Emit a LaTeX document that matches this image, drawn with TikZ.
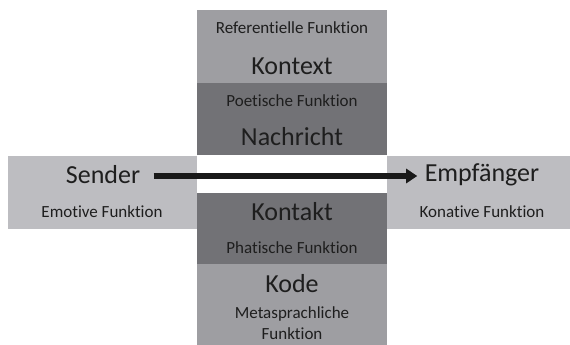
\documentclass[tikz,border=0pt]{standalone}
\usepackage{fontspec}
\setmainfont[Ligatures=NoCommon]{Carlito}
\usetikzlibrary{arrows.meta}
\definecolor{boxlight}{HTML}{BDBDC1}
\definecolor{boxmid}{HTML}{9E9EA2}
\definecolor{boxdark}{HTML}{727276}
\definecolor{txt}{HTML}{1E1E1E}
\begin{document}
\begin{tikzpicture}[x=1pt, y=-1pt,
    box/.style={draw=none, inner sep=0pt, anchor=north west},
    big/.style={font=\fontsize{26}{28}\selectfont, text=txt},
    small/.style={font=\fontsize{17}{21}\selectfont, text=txt, align=center}]

    \useasboundingbox (0,0) rectangle (570,345);

    % boxes
    \node[box, fill=boxlight, minimum width=189pt, minimum height=73pt] (SB) at (8,156) {};
    \node[box, fill=boxlight, minimum width=183pt, minimum height=73pt] (EB) at (387,156) {};
    \node[box, fill=boxmid, minimum width=190pt, minimum height=73pt] (KXB) at (197,10) {};
    \node[box, fill=boxdark, minimum width=190pt, minimum height=72pt] (NAB) at (197,83) {};
    \node[box, fill=boxdark, minimum width=190pt, minimum height=71pt] (KTB) at (197,193) {};
    \node[box, fill=boxmid, minimum width=190pt, minimum height=81pt] (KOB) at (197,264) {};

    % texts
    \node[small] (RF) at (292,28) {Referentielle Funktion};
    \node[big] (KX) at (292,66) {Kontext};
    \node[small] (PF) at (292,101) {Poetische Funktion};
    \node[big] (NA) at (292,137) {Nachricht};
    \node[big] (SE) at (103,175) {Sender};
    \node[small] (EF) at (102,212) {Emotive Funktion};
    \node[big] (EM) at (482,175) {Empfänger};
    \node[small] (KF) at (482,212) {Konative Funktion};
    \node[big] (KT) at (292,212) {Kontakt};
    \node[small] (PH) at (292,248) {Phatische Funktion};
    \node[big] (KO) at (292,284) {Kode};
    \node[small] (MF) at (292,323) {Metasprachliche\\Funktion};

    % arrow
    \draw[line width=5.5pt, color=black!90, -{Triangle[length=11pt, width=14pt]}]
        ([xshift=10pt, yshift=-1pt]SE.east) -- ([xshift=-4pt, yshift=-1pt]EM.west);
\end{tikzpicture}
\end{document}
